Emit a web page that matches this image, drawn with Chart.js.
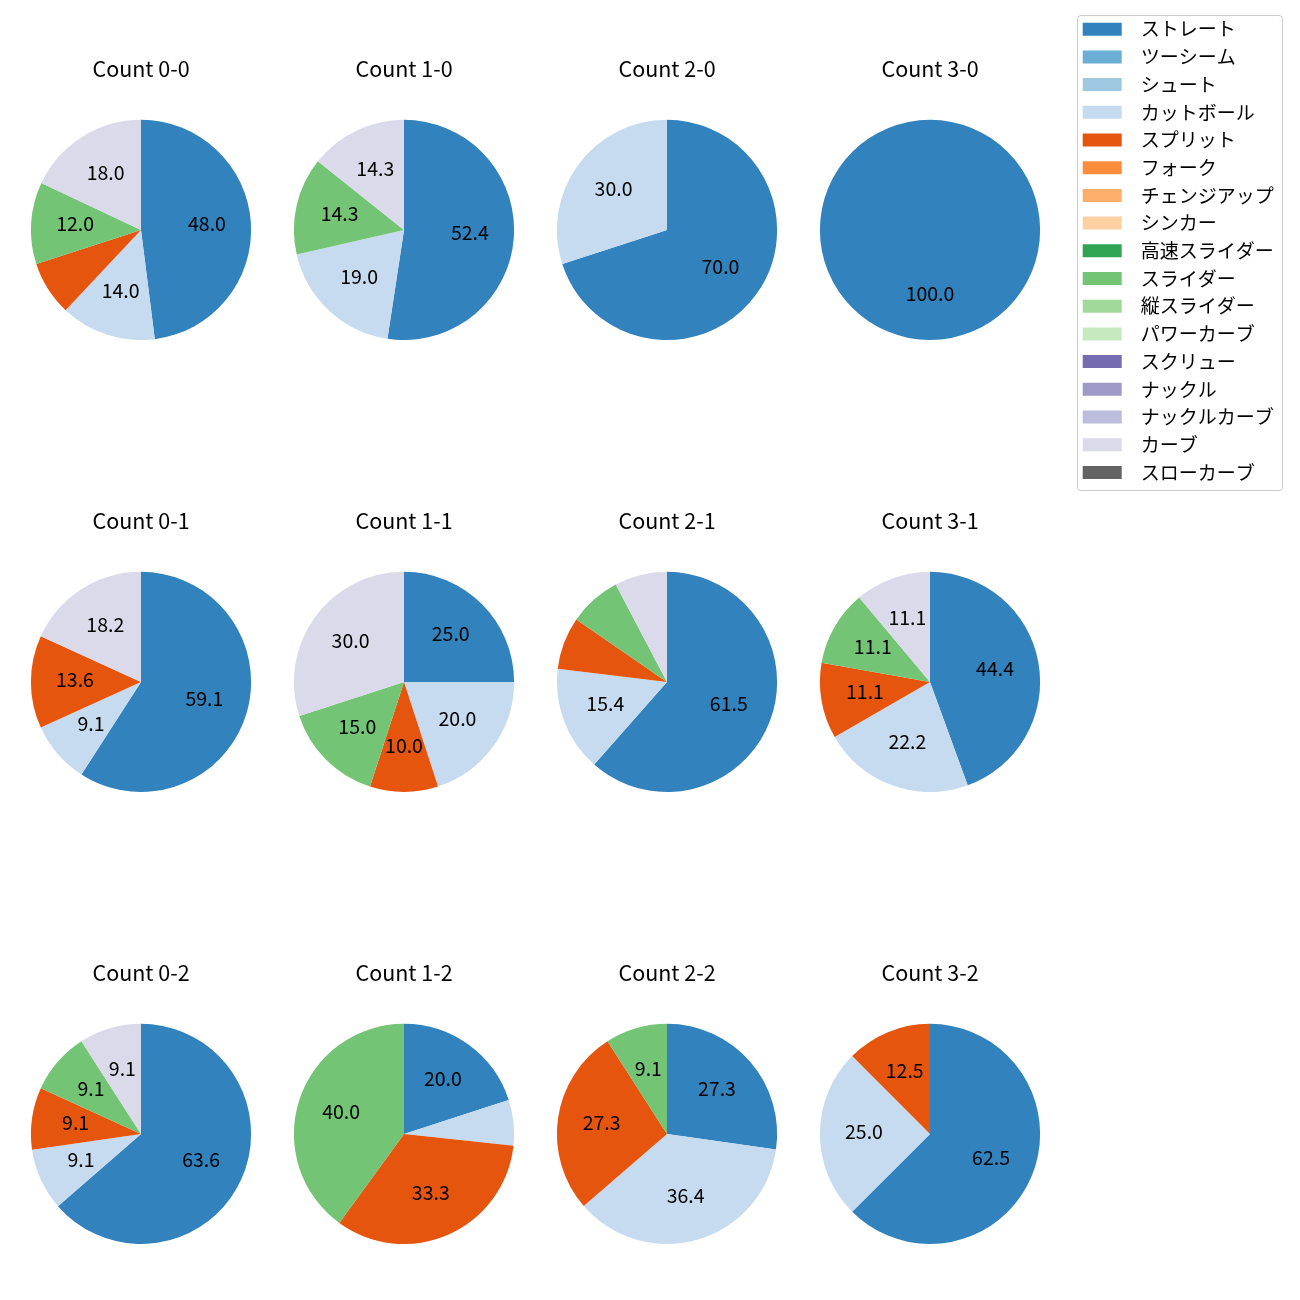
<!DOCTYPE html>
<html>
<head>
<meta charset="utf-8">
<script src="https://cdn.jsdelivr.net/npm/chart.js@4.4.1/dist/chart.umd.min.js"></script>
<style>
  body { margin: 0; background: #fff; }
  .cell { position: absolute; width: 240px; height: 284px; }
  #legendFrame { position: absolute; left: 1077px; top: 15px; width: 204px; height: 474px; border: 1px solid #cccccc; border-radius: 4px; }
  #legendBox { position: absolute; left: 1074px; top: 11px; width: 215px; height: 500px; }
</style>
</head>
<body>
<div id="legendFrame"></div>
<div id="legendBox"><canvas id="legendCanvas"></canvas></div>
<script>
// Kategorie i kolory
const counts = ['Count 0-0', 'Count 1-0', 'Count 2-0', 'Count 3-0',
                'Count 0-1', 'Count 1-1', 'Count 2-1', 'Count 3-1',
                'Count 0-2', 'Count 1-2', 'Count 2-2', 'Count 3-2'];
const pitchTypes = ['ストレート', 'ツーシーム', 'シュート', 'カットボール', 'スプリット', 'フォーク',
                    'チェンジアップ', 'シンカー', '高速スライダー', 'スライダー', '縦スライダー',
                    'パワーカーブ', 'スクリュー', 'ナックル', 'ナックルカーブ', 'カーブ', 'スローカーブ'];
const pitchColors = ['#3182bd', '#6baed6', '#9ecae1', '#c6dbef', '#e6550d', '#fd8d3c',
                     '#fdae6b', '#fdd0a2', '#31a354', '#74c476', '#a1d99b', '#c7e9c0',
                     '#756bb1', '#9e9ac8', '#bcbddc', '#dadaeb', '#636363'];

// Udziały (%) dla każdego countu, w kolejności counts
const straight = [48.0, 52.4, 70.0, 100.0, 59.1, 25.0, 61.5, 44.4, 63.6, 20.0, 27.3, 62.5];
const cutball  = [14.0, 19.0, 30.0, 0, 9.1, 20.0, 15.4, 22.2, 9.1, 6.7, 36.4, 25.0];
const split    = [8.0, 0, 0, 0, 13.6, 10.0, 7.7, 11.1, 9.1, 33.3, 27.3, 12.5];
const slider   = [12.0, 14.3, 0, 0, 0, 15.0, 7.7, 11.1, 9.1, 40.0, 9.1, 0];
const curve    = [18.0, 14.3, 0, 0, 18.2, 30.0, 7.7, 11.1, 9.1, 0, 0, 0];

const seriesByType = { 0: straight, 3: cutball, 4: split, 9: slider, 15: curve };

// Pozycje siatki
const colX = [141, 404, 667, 930];
const rowTitleY = [69, 521, 973];

Chart.defaults.font.family = '"Noto Sans CJK JP", "Noto Sans", sans-serif';
Chart.defaults.color = '#000';

// Etykiety procentowe na wycinkach
const pctLabels = {
  id: 'pctLabels',
  afterDatasetsDraw(chart) {
    const ctx = chart.ctx;
    const meta = chart.getDatasetMeta(0);
    const values = chart.data.datasets[0].data;
    ctx.save();
    ctx.font = '19.5px "Noto Sans CJK JP"';
    ctx.fillStyle = '#000';
    ctx.textAlign = 'center';
    ctx.textBaseline = 'middle';
    meta.data.forEach((arc, i) => {
      const v = values[i];
      if (v < 9) return;
      const p = arc.getProps(['x', 'y', 'startAngle', 'endAngle', 'outerRadius']);
      const mid = (p.startAngle + p.endAngle) / 2;
      const r = p.outerRadius * 0.6;
      ctx.fillText(v.toFixed(1), p.x + Math.cos(mid) * r, p.y + Math.sin(mid) * r - 2);
    });
    ctx.restore();
  }
};

// Wykresy kołowe
counts.forEach((title, i) => {
  const div = document.createElement('div');
  div.className = 'cell';
  div.style.left = (colX[i % 4] - 120) + 'px';
  div.style.top = (rowTitleY[Math.floor(i / 4)] - 13) + 'px';
  const canvas = document.createElement('canvas');
  div.appendChild(canvas);
  document.body.appendChild(div);

  const data = pitchTypes.map((_, k) => seriesByType[k] ? seriesByType[k][i] : 0);

  new Chart(canvas, {
    type: 'pie',
    data: {
      labels: pitchTypes,
      datasets: [{
        data: data,
        backgroundColor: pitchColors,
        borderWidth: 0,
        hoverOffset: 0
      }]
    },
    options: {
      responsive: true,
      maintainAspectRatio: false,
      animation: false,
      events: [],
      plugins: {
        legend: { display: false },
        tooltip: { enabled: false },
        title: {
          display: true,
          text: title,
          color: '#000',
          font: { size: 21.5, weight: 'normal' },
          padding: { top: 0, bottom: 38 }
        }
      }
    },
    plugins: [pctLabels]
  });
});

// Legenda
new Chart(document.getElementById('legendCanvas'), {
  type: 'pie',
  data: {
    labels: pitchTypes,
    datasets: [{ data: pitchTypes.map(() => 0), backgroundColor: pitchColors, borderWidth: 0 }]
  },
  options: {
    responsive: true,
    maintainAspectRatio: false,
    animation: false,
    events: [],
    plugins: {
      tooltip: { enabled: false },
      legend: {
        position: 'top',
        align: 'start',
        maxHeight: 1000,
        labels: {
          boxWidth: 39,
          boxHeight: 13,
          padding: 8.7,
          color: '#000',
          font: { size: 19 },
          generateLabels() {
            return pitchTypes.map((t, k) => ({
              text: '\u2002' + t,
              fillStyle: pitchColors[k],
              strokeStyle: pitchColors[k],
              lineWidth: 0,
              hidden: false,
              index: k
            }));
          }
        }
      }
    }
  }
});
</script>
</body>
</html>
